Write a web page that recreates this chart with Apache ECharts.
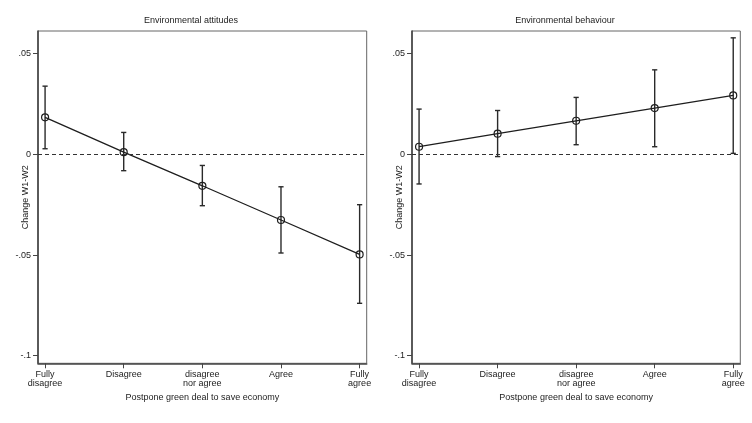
<!DOCTYPE html>
<html>
<head>
<meta charset="utf-8">
<script src="https://cdn.jsdelivr.net/npm/echarts@6/dist/echarts.min.js"></script>
<style>
  html, body { margin: 0; padding: 0; background: #ffffff; }
  #chart { width: 752px; height: 423px; }
</style>
</head>
<body>
<div id="chart"></div>
<script>
// ---- data ----
var categories = ['Fully\ndisagree', 'Disagree', 'disagree\nnor agree', 'Agree', 'Fully\nagree'];
var catPos = [1, 2, 3, 4, 5];
var panelTitles = ['Environmental attitudes', 'Environmental behaviour'];
var yTicks = [-0.1, -0.05, 0, 0.05];
var yTickLabels = ['-.1', '-.05', '0', '.05'];

var attEst = [0.0184, 0.0011, -0.0156, -0.0326, -0.0497];
var attLo  = [0.0028, -0.0081, -0.0255, -0.0490, -0.0740];
var attHi  = [0.0339, 0.0109, -0.0055, -0.0161, -0.0250];

var behEst = [0.0038, 0.0103, 0.0167, 0.0230, 0.0293];
var behLo  = [-0.0147, -0.0011, 0.0048, 0.0038, 0.0005];
var behHi  = [0.0225, 0.0218, 0.0283, 0.0420, 0.0579];

// ---- chart ----
var FONT = 'Liberation Sans, Arial, sans-serif';
var TXT = '#1c1c1c';
var chart = echarts.init(document.getElementById('chart'), null, { renderer: 'canvas' });

function xAxisCfg(gi) {
  return {
    type: 'value', gridIndex: gi, min: 0.91, max: 5.09,
    name: 'Postpone green deal to save economy',
    nameLocation: 'middle', nameGap: 30, nameMoveOverlap: false,
    nameTextStyle: { fontFamily: FONT, fontSize: 9, color: TXT },
    splitLine: { show: false },
    axisLine: { show: true, onZero: false, lineStyle: { color: '#444', width: 1.6 } },
    axisTick: { show: true, length: 5, lineStyle: { color: '#444', width: 1 }, customValues: catPos },
    axisLabel: {
      show: true, margin: 7, fontFamily: FONT, fontSize: 9, lineHeight: 9, color: TXT,
      customValues: catPos,
      formatter: function (v) { return categories[Math.round(v) - 1]; }
    }
  };
}
function yAxisCfg(gi) {
  return {
    type: 'value', gridIndex: gi, min: -0.1038, max: 0.0613,
    name: 'Change W1-W2', nameLocation: 'middle', nameGap: 8, nameMoveOverlap: false,
    nameTextStyle: { fontFamily: FONT, fontSize: 9, color: TXT },
    splitLine: { show: false },
    axisLine: { show: true, onZero: false, lineStyle: { color: '#444', width: 1.6 } },
    axisTick: { show: true, length: 5, lineStyle: { color: '#444', width: 1 }, customValues: yTicks },
    axisLabel: {
      show: true, margin: 7, fontFamily: FONT, fontSize: 9, color: TXT,
      customValues: yTicks,
      formatter: function (v) {
        for (var i = 0; i < yTicks.length; i++) if (Math.abs(v - yTicks[i]) < 1e-9) return yTickLabels[i];
        return '';
      }
    }
  };
}

function errSeries(gi, lo, hi) {
  var data = catPos.map(function (x, i) { return [x, lo[i], hi[i]]; });
  return {
    type: 'custom', xAxisIndex: gi, yAxisIndex: gi, data: data, silent: true,
    renderItem: function (params, api) {
      var x = api.value(0);
      var pLo = api.coord([x, api.value(1)]);
      var pHi = api.coord([x, api.value(2)]);
      var hw = 2.6;
      var st = { stroke: '#2a2a2a', lineWidth: 1.4 };
      return {
        type: 'group',
        children: [
          { type: 'line', shape: { x1: pLo[0], y1: pLo[1], x2: pHi[0], y2: pHi[1] }, style: st },
          { type: 'line', shape: { x1: pHi[0] - hw, y1: pHi[1], x2: pHi[0] + hw, y2: pHi[1] }, style: st },
          { type: 'line', shape: { x1: pLo[0] - hw, y1: pLo[1], x2: pLo[0] + hw, y2: pLo[1] }, style: st }
        ]
      };
    },
    z: 3
  };
}
function lineSeries(gi, est) {
  return {
    type: 'line', xAxisIndex: gi, yAxisIndex: gi,
    data: catPos.map(function (x, i) { return [x, est[i]]; }),
    symbol: 'circle', symbolSize: 7,
    lineStyle: { color: '#1e1e1e', width: 1.3 },
    itemStyle: { color: 'rgba(0,0,0,0)', borderColor: '#1e1e1e', borderWidth: 1.2 },
    markLine: {
      silent: true, symbol: 'none', label: { show: false },
      lineStyle: { color: '#333', type: [4, 3], width: 1 },
      data: [{ yAxis: 0 }]
    },
    z: 4
  };
}

var option = {
  animation: false,
  backgroundColor: '#ffffff',
  textStyle: { fontFamily: FONT },
  graphic: [
    { type: 'text', x: 191, y: 21, style: { text: panelTitles[0], font: '9px ' + FONT, fill: TXT, textAlign: 'center', textVerticalAlign: 'middle' } },
    { type: 'text', x: 565, y: 21, style: { text: panelTitles[1], font: '9px ' + FONT, fill: TXT, textAlign: 'center', textVerticalAlign: 'middle' } }
  ],
  grid: [
    { left: 38, right: 385.3, top: 31, bottom: 59.7, show: true, borderColor: '#666', borderWidth: 1, backgroundColor: '#fff' },
    { left: 412, right: 11.7, top: 31, bottom: 59.7, show: true, borderColor: '#666', borderWidth: 1, backgroundColor: '#fff' }
  ],
  xAxis: [xAxisCfg(0), xAxisCfg(1)],
  yAxis: [yAxisCfg(0), yAxisCfg(1)],
  series: [
    errSeries(0, attLo, attHi), lineSeries(0, attEst),
    errSeries(1, behLo, behHi), lineSeries(1, behEst)
  ]
};
chart.setOption(option);
</script>
</body>
</html>
